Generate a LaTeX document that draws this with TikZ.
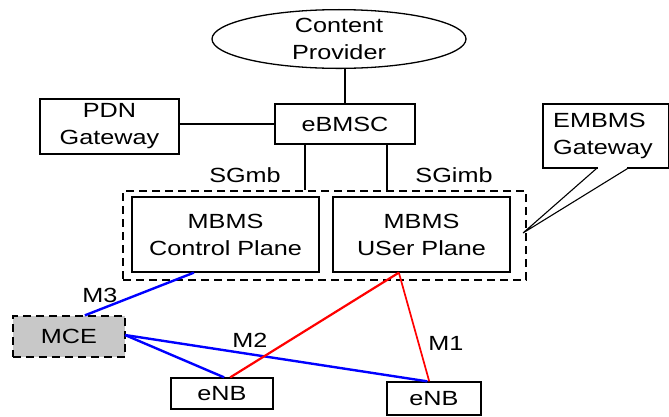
\documentclass[tikz,border=0pt]{standalone}
\usepackage{fontspec}
\setmainfont[FakeStretch=1.23]{Liberation Sans}
\usetikzlibrary{shapes.geometric,calc}
\begin{document}
\begin{tikzpicture}[x=1pt,y=-1pt,
  every node/.style={font=\fontsize{20.5}{27}\selectfont, inner sep=0pt, align=center},
  box/.style={draw, line width=1.3pt, rectangle},
  conn/.style={line width=2pt},
  blueline/.style={draw={rgb,255:red,0;green,0;blue,255}, line width=2.4pt},
  redline/.style={draw={rgb,255:red,255;green,0;blue,0}, line width=2.2pt},
  lbl/.style={}]
\useasboundingbox (0,0) rectangle (669,416);
% nodes
\node[draw, line width=1.3pt, ellipse, minimum width=254pt, minimum height=58pt] (cp) at (339,39) {Content\\Provider};
\node[box, minimum width=140pt, minimum height=40pt] (bmsc) at (345,124) {eBMSC};
\node[box, minimum width=139pt, minimum height=55pt] (pdn) at (109.5,126.5) {PDN\\Gateway};
\node[draw, dashed, dash pattern=on 8pt off 5pt, line width=1.3pt, rectangle, minimum width=403pt, minimum height=89pt] (gw) at (324.5,235.5) {};
\node[box, minimum width=187pt, minimum height=75pt] (ctrl) at (225.5,234.5) {MBMS\\Control Plane};
\node[box, minimum width=177pt, minimum height=75pt] (user) at (421.5,234.5) {MBMS\\USer Plane};
\node[draw, dashed, dash pattern=on 8pt off 5pt, line width=1.3pt, fill={rgb,255:red,200;green,200;blue,200}, rectangle, minimum width=112pt, minimum height=41pt] (mce) at (69,336.5) {MCE};
\node[box, minimum width=102pt, minimum height=31pt] (enb1) at (222,393.5) {eNB};
\node[box, minimum width=94pt, minimum height=33pt] (enb2) at (434,398.5) {eNB};
% callout
\node[box, minimum width=126pt, minimum height=64pt] (cb) at (606,136) {};
\node[anchor=west, align=left] (ct) at (553,136) {EMBMS\\Gateway};
\coordinate (tip) at (523,233);
\fill[white] (598,166) rectangle (627,170);
\draw[line width=1.1pt] ($(cb.south west)+(54,0)$) -- (tip) -- ($(cb.south west)+(85,0)$);
% labels
\node (sgmb) at (245,175) {SGmb};
\node (sgimb) at (454,175) {SGimb};
\node (m3) at (100,295) {M3};
\node (m2) at (250,340) {M2};
\node (m1) at (446,343) {M1};
% connectors
\coordinate (xa) at (305,0);
\coordinate (xb) at (387,0);
\draw[conn] (cp.south -| bmsc.north) -- (bmsc.north);
\draw[conn] (pdn.east |- bmsc.west) -- (bmsc.west);
\draw[conn] (bmsc.south -| xa) -- (gw.north -| xa);
\draw[conn] (bmsc.south -| xb) -- (gw.north -| xb);
% blue
\coordinate (mceR) at (125,335);
\draw[blueline] ($(ctrl.south west)!0.332!(ctrl.south east)$) -- ($(mce.north west)!0.64!(mce.north east)$);
\draw[blueline] (mceR) -- ($(enb1.north west)!0.52!(enb1.north east)$);
\draw[blueline] (mceR) -- ($(enb2.north west)!0.43!(enb2.north east)$);
% red
\coordinate (up) at ($(user.south west)!0.373!(user.south east)$);
\draw[redline] (up) -- ($(enb1.north west)!0.58!(enb1.north east)$);
\draw[redline, line width=1.7pt] (up) -- ($(enb2.north west)!0.45!(enb2.north east)$);
\end{tikzpicture}
\end{document}
